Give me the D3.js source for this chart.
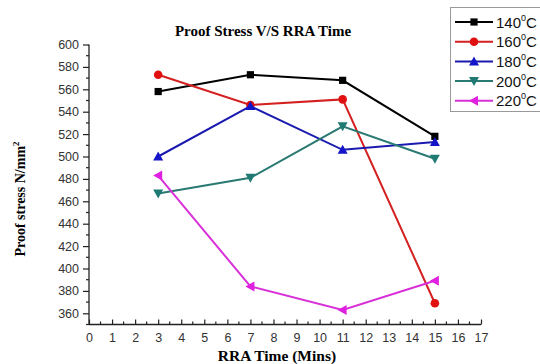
<!DOCTYPE html>
<html><head><meta charset="utf-8">
<script src="https://cdn.jsdelivr.net/npm/d3@7"></script>
<style>body{margin:0;background:#fff}svg{display:block}</style>
</head><body>
<svg id="c" width="540" height="364"></svg>
<script>
const times = [3, 7, 11, 15];
const seriesNames = ["140", "160", "180", "200", "220"];
const s140 = [558, 573, 568, 518];
const s160 = [573, 546, 551, 369];
const s180 = [500, 545, 506, 513];
const s200 = [467, 481, 527, 498];
const s220 = [483, 384, 363, 389];
const xTicks = d3.range(0, 18);
const yTicks = d3.range(360, 601, 20);
const colors = ["#000000", "#e01010", "#1414c8", "#1f7a74", "#e020e0"];
const lineColors = ["#000000", "#d42020", "#1a1ab0", "#2a7a73", "#d830d8"];
const symbols = ["square", "circle", "triUp", "triDown", "triLeft"];
const allSeries = [s140, s160, s180, s200, s220];

const svg = d3.select("#c");
const x = d3.scaleLinear().domain([0, 17]).range([89, 481]);
const y = d3.scaleLinear().domain([350, 600]).range([324.5, 44.5]);

// axes
const xAxis = d3.axisBottom(x).tickValues(xTicks).tickSize(-5).tickPadding(9).tickFormat(d3.format("d"));
const gx = svg.append("g").attr("transform", `translate(0,${y(350)})`).call(xAxis);
gx.select(".domain").attr("d", `M${x(0)},0H${x(17)}`).attr("stroke", "#222").attr("stroke-width", 1.3);
gx.selectAll(".tick line").attr("stroke", "#222").attr("stroke-width", 1.2);
gx.selectAll("text").attr("font-family", "Arial, 'Liberation Sans', sans-serif").attr("font-size", 12.5).attr("fill", "#333");
gx.selectAll(".minor").data(d3.range(0.5, 17, 1)).enter().append("line")
  .attr("x1", d => x(d)).attr("x2", d => x(d)).attr("y1", 0).attr("y2", -3)
  .attr("stroke", "#222").attr("stroke-width", 1.2);

const yAxis = d3.axisLeft(y).tickValues(yTicks).tickSize(6).tickPadding(4);
const gy = svg.append("g").attr("transform", `translate(${x(0)},0)`).call(yAxis);
gy.select(".domain").attr("d", `M0,${y(350)}V${y(600)}`).attr("stroke", "#222").attr("stroke-width", 1.3);
gy.selectAll(".tick line").attr("stroke", "#222").attr("stroke-width", 1.2);
gy.selectAll("text").attr("font-family", "Arial, 'Liberation Sans', sans-serif").attr("font-size", 12.5).attr("fill", "#333");
gy.selectAll(".minor").data(d3.range(350, 600, 20)).enter().append("line")
  .attr("x1", 0).attr("x2", -3).attr("y1", d => y(d)).attr("y2", d => y(d))
  .attr("stroke", "#222").attr("stroke-width", 1.2);

// title & labels
svg.append("text").attr("x", 263).attr("y", 36).attr("text-anchor", "middle")
  .attr("font-family", "'Liberation Serif', 'Times New Roman', serif").attr("font-weight", "bold").attr("font-size", 15)
  .text("Proof Stress V/S RRA Time");
svg.append("text").attr("x", 277).attr("y", 361).attr("text-anchor", "middle")
  .attr("font-family", "'Liberation Serif', 'Times New Roman', serif").attr("font-weight", "bold").attr("font-size", 15.5)
  .text("RRA Time (Mins)");
const yl = svg.append("text").attr("transform", "translate(25,199) rotate(-90)").attr("text-anchor", "middle")
  .attr("font-family", "'Liberation Serif', 'Times New Roman', serif").attr("font-weight", "bold").attr("font-size", 14);
yl.append("tspan").text("Proof stress N/mm");
yl.append("tspan").attr("dy", -6).attr("font-size", 9).text("2");

function marker(g, type, cx, cy, col) {
  let p;
  if (type === "square") { g.append("rect").attr("x", cx - 3.6).attr("y", cy - 3.6).attr("width", 7.2).attr("height", 7.2).attr("fill", col); return; }
  if (type === "circle") { g.append("circle").attr("cx", cx).attr("cy", cy).attr("r", 4.3).attr("fill", col); return; }
  if (type === "triUp") p = [[cx, cy - 5], [cx + 5, cy + 4], [cx - 5, cy + 4]];
  if (type === "triDown") p = [[cx, cy + 5], [cx + 5, cy - 4], [cx - 5, cy - 4]];
  if (type === "triLeft") p = [[cx - 5, cy], [cx + 4, cy - 5], [cx + 4, cy + 5]];
  g.append("path").attr("d", "M" + p.join("L") + "Z").attr("fill", col);
}

const line = d3.line().x((d, i) => x(times[i])).y(d => y(d));
allSeries.forEach((vals, k) => {
  const g = svg.append("g");
  g.append("path").attr("d", line(vals)).attr("fill", "none").attr("stroke", lineColors[k]).attr("stroke-width", 2);
  vals.forEach((v, i) => marker(g, symbols[k], x(times[i]), y(v), colors[k]));
});

// legend
const lg = svg.append("g");
lg.append("rect").attr("x", 450.5).attr("y", 7.5).attr("width", 100).attr("height", 104).attr("fill", "#fff").attr("stroke", "#999").attr("stroke-width", 1);
seriesNames.forEach((n, k) => {
  const ly = 22 + k * 19.7;
  lg.append("line").attr("x1", 455).attr("x2", 493).attr("y1", ly).attr("y2", ly).attr("stroke", lineColors[k]).attr("stroke-width", 2);
  marker(lg, symbols[k], 474, ly, colors[k]);
  const t = lg.append("text").attr("x", 496).attr("y", ly + 5.5)
    .attr("font-family", "Arial, 'Liberation Sans', sans-serif").attr("font-size", 15).attr("fill", "#111");
  t.append("tspan").text(n);
  t.append("tspan").attr("dy", -7).attr("font-size", 9).text("0");
  t.append("tspan").attr("dy", 7).text("C");
});
</script>
</body></html>
